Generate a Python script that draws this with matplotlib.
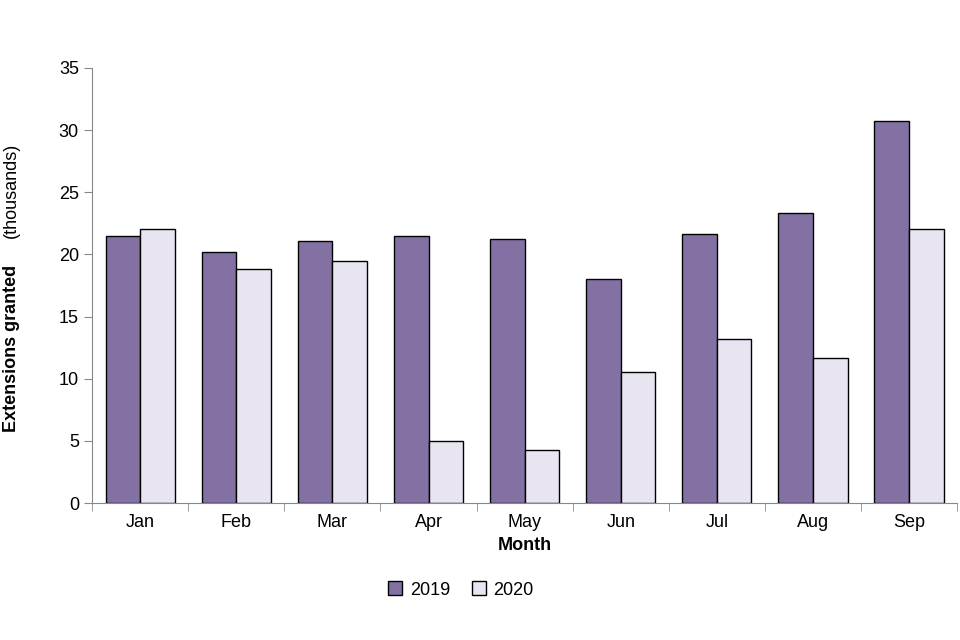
import matplotlib.pyplot as plt
import numpy as np

plt.rcParams['font.family'] = 'Liberation Sans'

months = ["Jan", "Feb", "Mar", "Apr", "May", "Jun", "Jul", "Aug", "Sep"]
vals_2019 = [21.5, 20.2, 21.1, 21.5, 21.2, 18.0, 21.6, 23.3, 30.7]
vals_2020 = [22.0, 18.8, 19.5, 5.0, 4.3, 10.5, 13.2, 11.7, 22.0]

fig = plt.figure(figsize=(9.6, 6.4), dpi=100)
ax = fig.add_axes([0.096, 0.214, 0.901, 0.68])

x = np.arange(len(months))
w = 0.36
ax.bar(x - w / 2, vals_2019, w, color='#8471A4', edgecolor='black', linewidth=1, label='2019')
ax.bar(x + w / 2, vals_2020, w, color='#E8E4F0', edgecolor='black', linewidth=1, label='2020')

ax.set_xlim(-0.5, len(months) - 0.5)
ax.set_ylim(0, 35)
ax.set_yticks(range(0, 36, 5))
ax.set_xticks(x)
ax.set_xticklabels(months)
ax.set_xticks(np.arange(-0.5, len(months), 1), minor=True)
ax.tick_params(axis='x', which='major', length=0, pad=8, labelsize=13)
ax.tick_params(axis='x', which='minor', length=6, color='#888888')
ax.tick_params(axis='y', length=6, color='#888888', labelsize=13)
for s in ['top', 'right']:
    ax.spines[s].set_visible(False)
for s in ['left', 'bottom']:
    ax.spines[s].set_color('#888888')

ax.set_xlabel("Month", fontsize=13, fontweight='bold', labelpad=4)

fig.text(0.012, (640 - 432) / 640, "Extensions granted", rotation=90,
         ha='center', va='bottom', fontsize=13, fontweight='bold')
fig.text(0.012, (640 - 238) / 640, "(thousands)", rotation=90,
         ha='center', va='bottom', fontsize=13)

fig.legend(loc='center', bbox_to_anchor=(0.48, 0.078), ncol=2, frameon=False,
           fontsize=13, handlelength=0.8, handleheight=0.8, columnspacing=1.2,
           handletextpad=0.4)

fig.savefig("out.png", dpi=100)
